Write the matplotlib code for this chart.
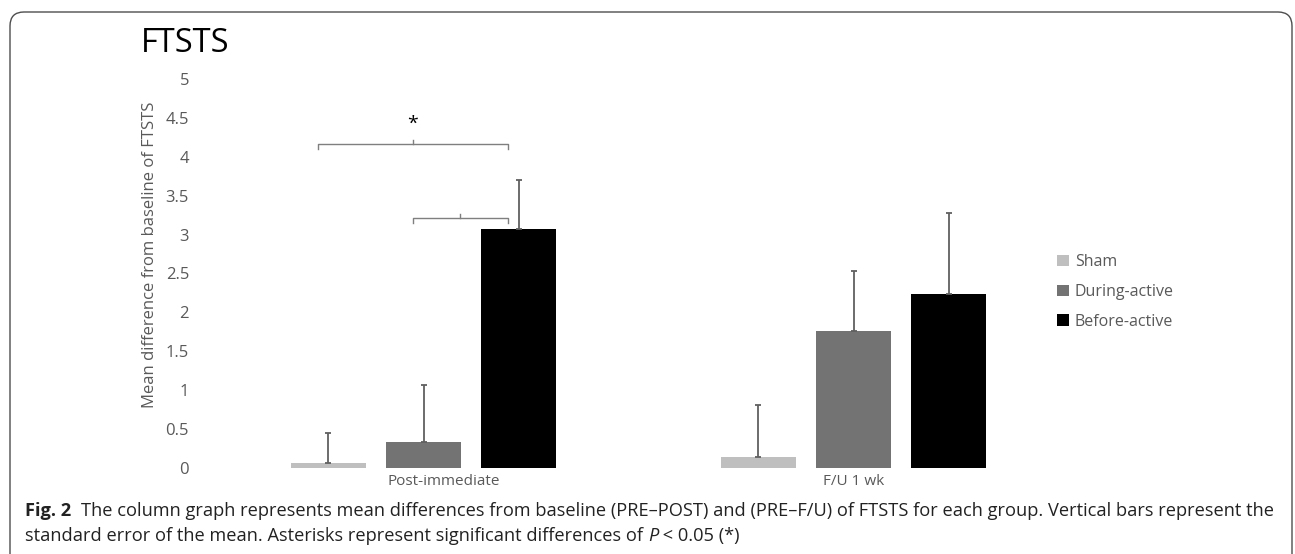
import matplotlib
matplotlib.use('Agg')
import matplotlib.pyplot as plt
import numpy as np
from matplotlib.patches import FancyBboxPatch, Patch
from matplotlib.transforms import IdentityTransform, ScaledTranslation

plt.rcParams['font.family'] = ['Open Sans', 'DejaVu Sans']

# ---------------- data ----------------
title = "FTSTS"
categories = ["Post-immediate", "F/U 1 wk"]
group_names = ["Sham", "During-active", "Before-active"]
sham_mean = [0.064, 0.141]
during_mean = [0.334, 1.76]
before_mean = [3.07, 2.24]
sham_se = [0.386, 0.669]
during_se = [0.733, 0.77]
before_se = [0.63, 1.04]
y_ticks = [0, 0.5, 1, 1.5, 2, 2.5, 3, 3.5, 4, 4.5, 5]
y_label = "Mean difference from baseline of FTSTS"
# significance brackets: (category index, first group, second group, level, mark)
brackets = [(0, 0, 2, 4.16, "*"), (0, 1, 2, 3.21, "")]

caption1_bold = "Fig. 2"
caption1_rest = "The column graph represents mean differences from baseline (PRE\u2013POST) and (PRE\u2013F/U) of FTSTS for each group. Vertical bars represent the"
caption2_parts = [("standard error of the mean. Asterisks represent significant differences of ", "normal"),
                  ("P", "italic"), (" < 0.05 (*)", "normal")]

# ---------------- styling ----------------
colors = ["#BFBFBF", "#737373", "#000000"]
grey_txt = "#595959"
W, H = 1295, 554
fig = plt.figure(figsize=(W / 100, H / 100), dpi=100)
ax = fig.add_axes([208.5 / W, (H - 468) / H, 860 / W, (468 - 79) / H])

means = [sham_mean, during_mean, before_mean]
ses = [sham_se, during_se, before_se]
x = np.arange(len(categories))
offset = 0.221
width = 0.174
for i, (m, s, c) in enumerate(zip(means, ses, colors)):
    pos = x + (i - 1) * offset
    ax.bar(pos, m, width=width, color=c, label=group_names[i], zorder=2)
    ax.errorbar(pos, m, yerr=[np.zeros(len(s)), s], fmt='none',
                ecolor='#606060', elinewidth=1.3, capsize=2.5, capthick=1.3, zorder=3)

# brackets
for cat, g1, g2, lvl, mark in brackets:
    xa = x[cat] + (g1 - 1) * offset - 0.025
    xb = x[cat] + (g2 - 1) * offset - 0.025
    xm = (xa + xb) / 2
    bc = '#7f7f7f'
    ax.plot([xa, xa, xb, xb], [lvl - 0.06, lvl, lvl, lvl - 0.06], color=bc, lw=1.0, zorder=4)
    ax.plot([xm, xm], [lvl, lvl + 0.06], color=bc, lw=1.0, zorder=4)
    if mark:
        ax.text(xm, lvl + 0.27, mark, ha='center', va='center', fontsize=14, color='black')

ax.set_xlim(-0.5, 1.5)
ax.set_ylim(0, 5)
ax.set_yticks(y_ticks)
ax.set_yticklabels([f"{t:g}" for t in y_ticks])
ax.set_xticks(x)
ax.set_xticklabels(categories)
for sp in ax.spines.values():
    sp.set_visible(False)
ax.tick_params(axis='y', length=0, pad=14, labelsize=12, labelcolor=grey_txt)
ax.tick_params(axis='x', length=0, pad=4, labelsize=11, labelcolor=grey_txt)
# Post-immediate label is shifted to the right in the reference
lbl0 = ax.get_xticklabels()[0]
lbl0.set_transform(lbl0.get_transform() + ScaledTranslation(20 / 100, 0, fig.dpi_scale_trans))

fig.text(150 / W, 1 - 255 / H, y_label, rotation=90, ha='center', va='center',
         fontsize=12, color=grey_txt)
fig.text(141 / W, 1 - 43 / H, title, ha='left', va='center', fontsize=23.5, color='black')

handles = [Patch(facecolor=c, edgecolor='none') for c in colors]
fig.legend(handles, group_names, loc='center left', bbox_to_anchor=(1043 / W, 1 - 292 / H),
           frameon=False, fontsize=11.5, handlelength=0.7, handleheight=0.7,
           handletextpad=0.4, labelspacing=0.85, labelcolor=grey_txt)

# frame
frame = FancyBboxPatch((10, -30), 1282, H - 12 + 30, boxstyle="round,pad=0,rounding_size=14",
                       transform=IdentityTransform(), facecolor='none', edgecolor='#4d4d4d',
                       lw=1.0, zorder=10)
fig.patches.append(frame)

# caption
fig.canvas.draw()
renderer = fig.canvas.get_renderer()


def place_parts(parts, x0, y, size):
    xp = x0
    for txt, style in parts:
        kw = dict(fontsize=size, color='#222222', ha='left', va='center')
        if style == 'bold':
            kw['fontweight'] = 'bold'
        if style == 'italic':
            kw['fontstyle'] = 'italic'
        t = fig.text(xp / W, y / H, txt, **kw)
        bb = t.get_window_extent(renderer)
        xp = bb.x1
    return xp

# measure natural width of caption line 1 at size 10 and scale to target width
test_parts = [(caption1_bold + "  ", 'bold'), (caption1_rest, 'normal')]
tmp = []
xp = 0
for txt, style in test_parts:
    t = fig.text(0, 0, txt, fontsize=10, fontweight='bold' if style == 'bold' else 'normal')
    xp += t.get_window_extent(renderer).width
    tmp.append(t)
for t in tmp:
    t.remove()
size = 10 * (1273 - 25) / xp
place_parts(test_parts, 25, H - 511, size)
place_parts(caption2_parts, 25, H - 536, size)

fig.savefig('out.png', dpi=100)
